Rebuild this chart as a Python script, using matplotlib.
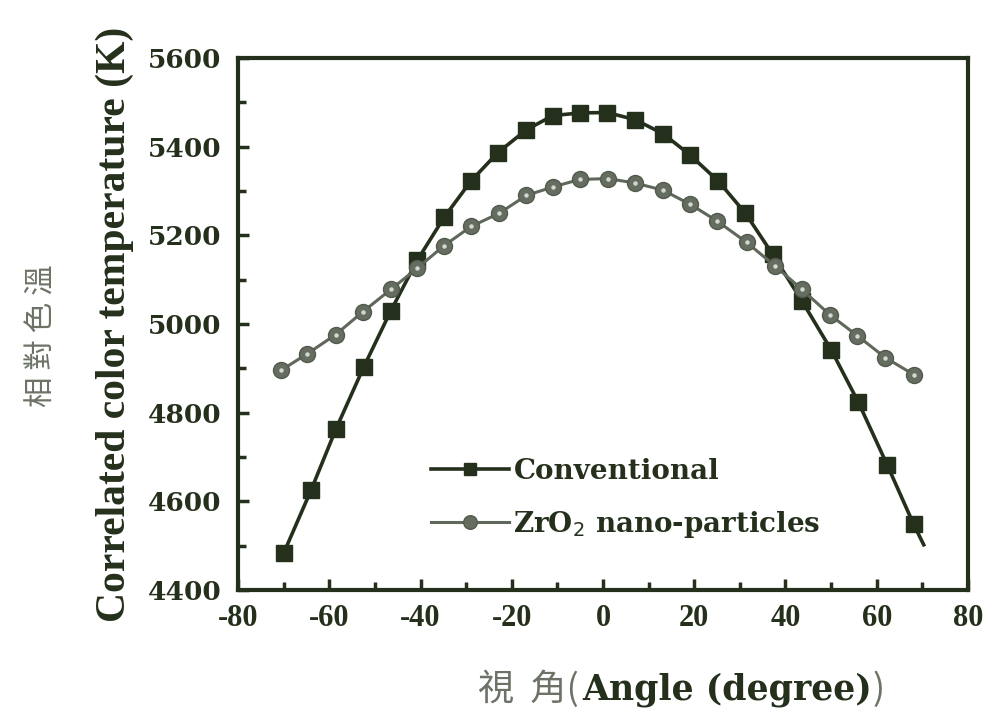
import matplotlib.pyplot as plt
from matplotlib.ticker import MultipleLocator

plt.rcParams['axes.unicode_minus'] = False

# angles (degrees)
conv_angle = [-70, -64, -58.5, -52.4, -46.5, -40.7, -34.8, -28.9, -23.1, -16.8, -11, -5.1,
              0.9, 7, 13.2, 19.1, 25.3, 31.2, 37.2, 43.6, 50, 56, 62.3, 68.1, 70.3]
conv_cct = [4483, 4625, 4764, 4904, 5030, 5144, 5241, 5323, 5386, 5438, 5470, 5476,
            5477, 5461, 5429, 5381, 5322, 5250, 5157, 5052, 4942, 4823, 4682, 4548, 4502]

zro2_angle = [-70.5, -64.8, -58.6, -52.7, -46.5, -40.7, -34.8, -28.9, -22.7, -16.8, -11, -5.1,
              1.1, 7, 13.1, 19.1, 24.9, 31.5, 37.7, 43.6, 49.7, 55.7, 61.9, 68.1]
zro2_cct = [4896, 4933, 4976, 5027, 5078, 5126, 5177, 5220, 5250, 5290, 5309, 5326,
            5328, 5318, 5302, 5270, 5233, 5184, 5131, 5078, 5021, 4974, 4924, 4886]

dark = '#25301c'
grey = '#5f685a'
cjk = '#6c7366'
en_font = 'DejaVu Serif'
cn_font = ['Noto Sans CJK TC', 'DejaVu Sans']

fig = plt.figure(figsize=(9.93, 7.22), dpi=100)
ax = fig.add_axes([0.2397, 0.1828, 0.7351, 0.7369])

ax.plot(conv_angle, conv_cct, color=dark, linewidth=2.6, marker='s', markersize=11,
        markevery=slice(0, len(conv_angle) - 1), label='Conventional', zorder=3)
ax.plot(zro2_angle, zro2_cct, color=grey, linewidth=2.2, marker='o', markersize=11.5,
        markerfacecolor='#646d5f', markeredgecolor='#525a4d', label='ZrO$_2$ nano-particles',
        zorder=4)
ax.plot(zro2_angle, zro2_cct, linestyle='none', marker='o', markersize=2.2,
        color='#d4d8d0', zorder=5)

ax.set_xlim(-80, 80)
ax.set_ylim(4400, 5600)
ax.xaxis.set_major_locator(MultipleLocator(20))
ax.xaxis.set_minor_locator(MultipleLocator(10))
ax.yaxis.set_major_locator(MultipleLocator(200))
ax.yaxis.set_minor_locator(MultipleLocator(100))
ax.tick_params(which='both', direction='in', color=dark, width=2.5, top=False, right=False)
ax.tick_params(which='major', length=8)
ax.tick_params(which='minor', length=6)
ax.tick_params(axis='x', pad=10)
ax.tick_params(axis='y', pad=12)
for s in ax.spines.values():
    s.set_linewidth(3)
    s.set_color(dark)

for lab in ax.get_xticklabels():
    lab.set_fontfamily('Liberation Serif')
    lab.set_fontweight('bold')
    lab.set_fontsize(22)
    lab.set_color(dark)
for lab in ax.get_yticklabels():
    lab.set_fontfamily(en_font)
    lab.set_fontweight('bold')
    lab.set_fontsize(19)
    lab.set_color(dark)

ax.set_ylabel('Correlated color temperature (K)', fontfamily='Liberation Serif',
              fontweight='bold', fontsize=30, color=dark, labelpad=10)
fig.text(0.042, 0.535, '相 對 色 溫', rotation=90, ha='center', va='center',
         fontsize=22, color=cjk, family=cn_font, fontweight='light')

fig.text(0.583, 0.045, '視  角(', ha='right', va='center', fontsize=26,
         color=cjk, family=cn_font, fontweight='light')
fig.text(0.586, 0.045, 'Angle (degree)', ha='left', va='center', fontsize=25,
         color=dark, family=en_font, fontweight='bold')
fig.text(0.879, 0.045, ')', ha='left', va='center', fontsize=26,
         color=cjk, family=cn_font, fontweight='light')

leg = ax.legend(loc='upper left', bbox_to_anchor=(0.265, 0.248), frameon=False,
                prop={'family': en_font, 'weight': 'bold', 'size': 20},
                borderpad=0, borderaxespad=0,
                handlelength=2.8, handletextpad=0.15, labelspacing=0.85, markerscale=0.85)
for t in leg.get_texts():
    t.set_color(dark)

plt.savefig('out.png', dpi=100)
